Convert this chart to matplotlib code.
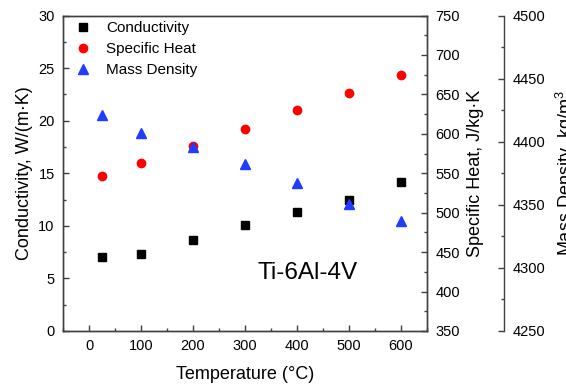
import numpy as np
import matplotlib.pyplot as plt
from matplotlib.ticker import MultipleLocator

plt.rcParams['font.family'] = ['Liberation Sans', 'DejaVu Sans']
plt.rcParams['mathtext.default'] = 'regular'

# temperatures (°C)
temp = [25, 100, 200, 300, 400, 500, 600]
# thermal conductivity, W/(m·K)
conductivity = [7.0, 7.35, 8.7, 10.1, 11.3, 12.5, 14.15]
# specific heat, J/kg·K
specific_heat = [546, 563, 584, 606, 630, 652, 674]
# mass density, kg/m^3
density = [4421, 4407, 4396, 4382, 4367, 4351, 4337]

spine_col = '#404040'

fig = plt.figure(figsize=(5.66, 3.87), dpi=100)
ax1 = fig.add_axes([63 / 566, 56 / 387, 364 / 566, 315.5 / 387])
ax2 = ax1.twinx()
ax3 = ax1.twinx()
ax3.spines['right'].set_position(('axes', 1.212))

h1, = ax1.plot(temp, conductivity, 's', color='black', ms=5.5, label='Conductivity')
h2, = ax2.plot(temp, specific_heat, 'o', color='#ff0000', ms=6, label='Specific Heat')
h3, = ax3.plot(temp, density, '^', color='#1f3cff', ms=7, label='Mass Density')

ax1.set_xlim(-50, 650)
ax1.set_ylim(0, 30)
ax2.set_ylim(350, 750)
ax3.set_ylim(4250, 4500)

ax1.xaxis.set_major_locator(MultipleLocator(100))
ax1.xaxis.set_minor_locator(MultipleLocator(50))
ax1.yaxis.set_major_locator(MultipleLocator(5))
ax1.yaxis.set_minor_locator(MultipleLocator(2.5))
ax2.yaxis.set_major_locator(MultipleLocator(50))
ax2.yaxis.set_minor_locator(MultipleLocator(25))
ax3.yaxis.set_major_locator(MultipleLocator(50))
ax3.yaxis.set_minor_locator(MultipleLocator(25))

for ax in (ax1, ax2, ax3):
    for s in ax.spines.values():
        s.set_color(spine_col)
        s.set_linewidth(1.0)
    ax.tick_params(which='major', direction='in', length=4.5, width=1, color=spine_col, labelsize=10.5, pad=6)
    ax.tick_params(which='minor', direction='in', length=2.5, width=1, color=spine_col)

ax1.tick_params(axis='x', which='both', top=False)
ax3.spines['left'].set_visible(False)
ax3.spines['top'].set_visible(False)
ax3.spines['bottom'].set_visible(False)

ax1.set_xlabel('Temperature (°C)', fontsize=13, labelpad=9)
ax1.set_ylabel('Conductivity, W/(m·K)', fontsize=13)
ax2.set_ylabel('Specific Heat, J/kg·K', fontsize=13, labelpad=5)
ax3.set_ylabel('Mass Density, kg/m$^3$', fontsize=13, labelpad=6)

ax1.text(420, 5.5, 'Ti-6Al-4V', fontsize=17.5, ha='center', va='center')

ax3.legend(handles=[h1, h2, h3], loc='upper left', bbox_to_anchor=(0.0, 1.015),
           frameon=False, fontsize=11, handlelength=1.2, handletextpad=0.9,
           labelspacing=0.45, borderaxespad=0.3)

fig.savefig('out.png', dpi=100)
